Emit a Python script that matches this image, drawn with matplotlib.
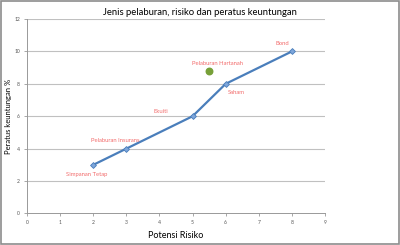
import matplotlib
matplotlib.use("Agg")
import matplotlib.pyplot as plt
from matplotlib.patches import Rectangle

# data
risk = [2, 3, 5, 6, 8]
ret = [3, 4, 6, 8, 10]
names = ["Simpanan Tetap", "Pelaburan Insurans", "Ekuiti", "Saham", "Bond"]
# label offsets (pixels) relative to each point
offs = [(-7, -10), (-11, 8), (-32, 5), (11, -9), (-10, 8)]

prop_x = [5.5]
prop_y = [8.8]
prop_name = "Pelaburan Hartanah"

plt.rcParams['font.family'] = ['Lato', 'DejaVu Sans']

fig = plt.figure(figsize=(4.0, 2.45), dpi=100)
ax = fig.add_axes([0.0675, 0.1286, 0.745, 0.7938])

grid_c = "#c0c0c0"
for y in range(2, 13, 2):
    ax.axhline(y, color=grid_c, lw=0.8, zorder=0)

ax.plot(risk, ret, color="#4a7ebb", lw=1.6, marker="D", ms=3,
        mfc="#7ea6db", mec="#4a7ebb", mew=0.6, zorder=3)
ax.scatter(prop_x, prop_y, s=22, color="#77a038", zorder=3)

lab_c = "#f26b6b"
for x, y, n, o in zip(risk, ret, names, offs):
    ax.annotate(n, (x, y), xytext=o, textcoords="offset pixels",
                ha="center", va="center", fontsize=4.2, color=lab_c)
ax.annotate(prop_name, (prop_x[0], prop_y[0]), xytext=(8, 7),
            textcoords="offset pixels", ha="center", va="center",
            fontsize=4.2, color=lab_c)

ax.set_xlim(0, 9)
ax.set_ylim(0, 12)
ax.set_xticks(range(0, 10))
ax.set_yticks(range(0, 13, 2))
ax.tick_params(axis="both", labelsize=3.6, colors="#555555", length=2,
               width=0.6, pad=3, color="#999999")
for s in ["top", "right"]:
    ax.spines[s].set_visible(False)
for s in ["left", "bottom"]:
    ax.spines[s].set_color("#999999")
    ax.spines[s].set_linewidth(0.7)

ax.set_xlabel("Potensi Risiko", fontsize=6.5, labelpad=4)
ax.set_ylabel("Peratus keuntungan %", fontsize=5.5)
ax.yaxis.set_label_coords(-0.049, 0.5)
fig.text(0.5, 0.95, "Jenis pelaburan, risiko dan peratus keuntungan",
         fontsize=6.8, ha="center", va="center")

fig.patches.append(Rectangle((0.003, 0.005), 0.994, 0.99,
                             transform=fig.transFigure, fill=False,
                             edgecolor="#8c8c8c", lw=1.2))

fig.savefig("out.png", dpi=100)
